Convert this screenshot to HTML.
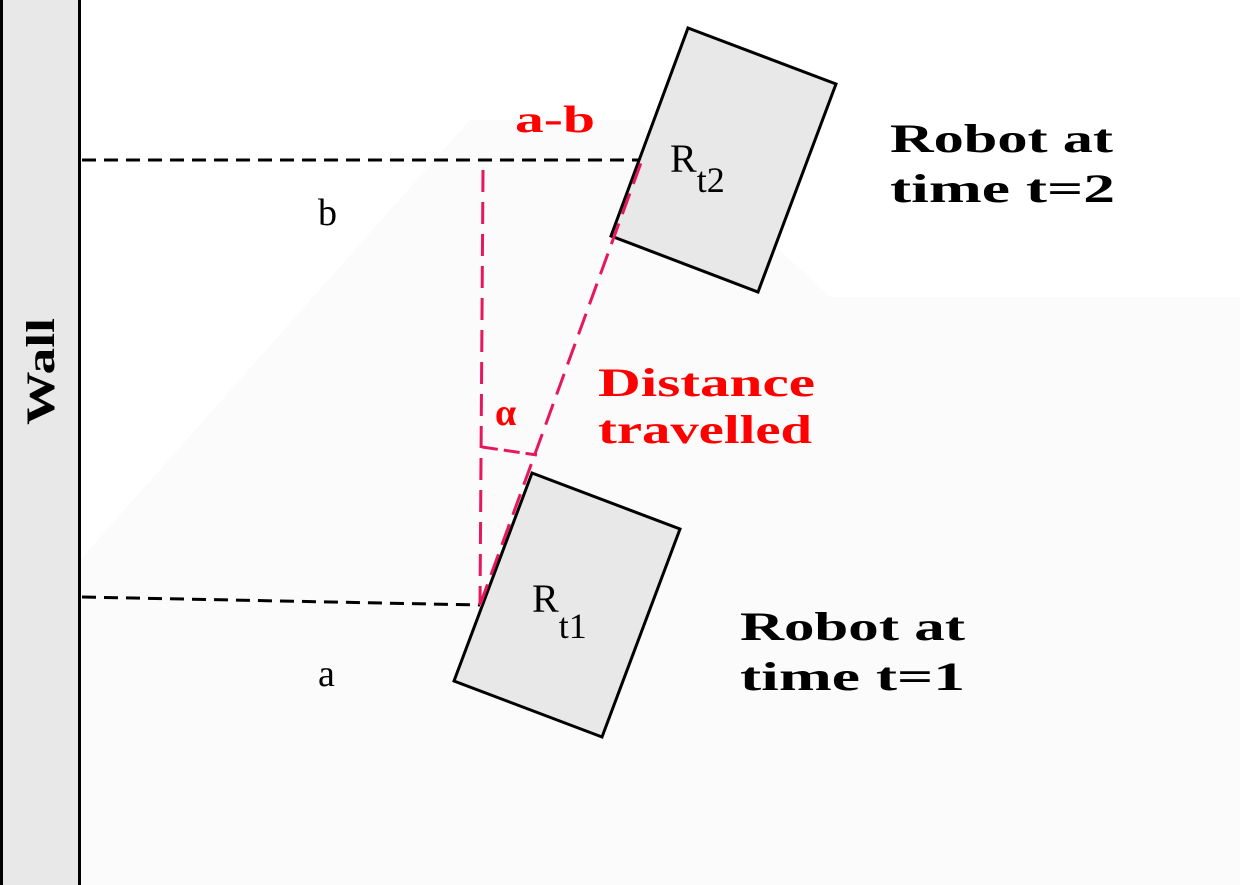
<!DOCTYPE html>
<html><head><meta charset="utf-8"><style>
html,body{margin:0;padding:0;background:#fff}
svg{display:block}
text{font-family:"Liberation Serif",serif}
</style></head><body>
<svg width="1240" height="885" viewBox="0 0 1240 885">
<polygon points="80,560 470,120 640,120 830,297 1240,297 1240,885 80,885" fill="#fbfbfb"/>
<rect x="1.5" y="-2" width="78" height="889" fill="#e8e8e8" stroke="#000" stroke-width="3"/>
<text transform="translate(54,425) rotate(-90)" font-size="40" font-weight="bold" textLength="107" lengthAdjust="spacingAndGlyphs">Wall</text>
<line x1="82" y1="160" x2="640" y2="160" stroke="#000" stroke-width="3" stroke-dasharray="14,8"/>
<line x1="82" y1="597" x2="480" y2="605" stroke="#000" stroke-width="3" stroke-dasharray="14,8"/>
<polygon points="688,28 836,84 758,292 611,236" fill="#e8e8e8" stroke="#000" stroke-width="3"/>
<polygon points="532,473 680,529 602,737 454,681" fill="#e8e8e8" stroke="#000" stroke-width="3"/>
<line x1="483" y1="170" x2="480" y2="605" stroke="#e8175d" stroke-width="3" stroke-dasharray="22,10"/>
<line x1="480" y1="605" x2="642" y2="160" stroke="#e8175d" stroke-width="3" stroke-dasharray="22,10"/>
<line x1="482" y1="447" x2="537" y2="455" stroke="#e8175d" stroke-width="3" stroke-dasharray="16,6"/>
<text x="515" y="132" font-size="38" font-weight="bold" fill="#f00" font-family="Liberation Sans,sans-serif" textLength="80" lengthAdjust="spacingAndGlyphs">a-b</text>
<text x="318" y="225" font-size="38">b</text>
<text x="318" y="686" font-size="38">a</text>
<text x="670" y="172" font-size="40">R<tspan dy="20" font-size="36">t2</tspan></text>
<text x="532" y="612" font-size="40">R<tspan dy="26" font-size="36">t1</tspan></text>
<text x="495" y="425" font-size="38" font-weight="bold" fill="#f00">α</text>
<text x="598" y="396" font-size="40" font-weight="bold" fill="#f00" textLength="217" lengthAdjust="spacingAndGlyphs">Distance</text>
<text x="598" y="443" font-size="40" font-weight="bold" fill="#f00" textLength="214" lengthAdjust="spacingAndGlyphs">travelled</text>
<text x="890" y="152" font-size="40" font-weight="bold" textLength="223" lengthAdjust="spacingAndGlyphs">Robot at</text>
<text x="890" y="202" font-size="40" font-weight="bold" textLength="225" lengthAdjust="spacingAndGlyphs">time t=2</text>
<text x="740" y="640" font-size="40" font-weight="bold" textLength="225" lengthAdjust="spacingAndGlyphs">Robot at</text>
<text x="740" y="690" font-size="40" font-weight="bold" textLength="225" lengthAdjust="spacingAndGlyphs">time t=1</text>
</svg>
</body></html>
